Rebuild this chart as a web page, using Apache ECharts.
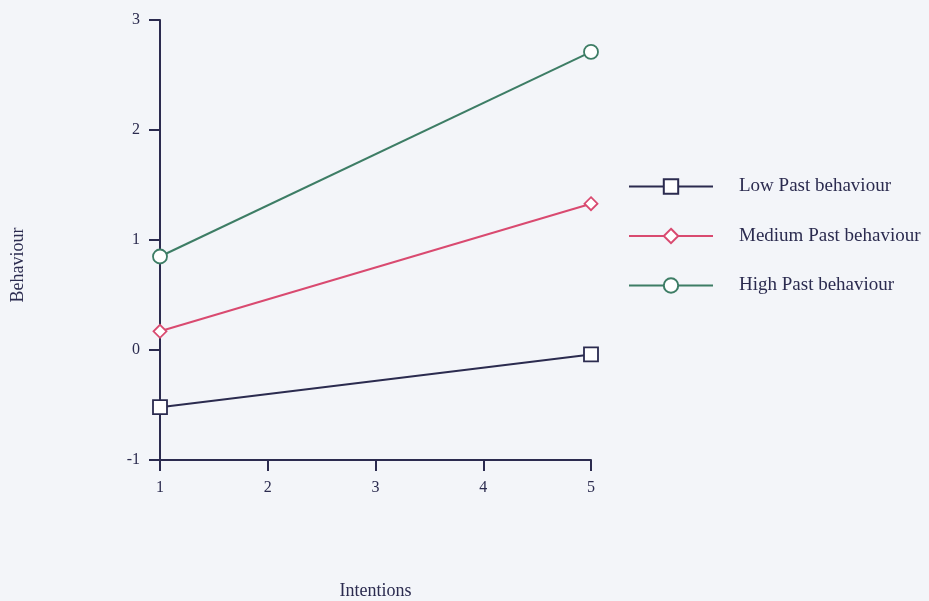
<!DOCTYPE html>
<html><head><meta charset="utf-8">
<script src="https://cdn.jsdelivr.net/npm/echarts@6/dist/echarts.min.js"></script>
<style>html,body{margin:0;padding:0;background:#f3f5f9;}#c{width:929px;height:601px;}</style>
</head><body><div id="c"></div>
<script>
const intentions = [1, 5];
const xTicks = [1, 2, 3, 4, 5];
const yTicks = [-1, 0, 1, 2, 3];
const seriesNames = ['Low Past behaviour', 'Medium Past behaviour', 'High Past behaviour'];
const lowPast = [-0.52, -0.04];
const mediumPast = [0.17, 1.33];
const highPast = [0.85, 2.71];

const font = 'Liberation Serif';
const axisColor = '#2b2b4f';
const colors = ['#2b2b4f', '#d94a70', '#3d7d65'];
const symbols = ['rect', 'diamond', 'circle'];
const sizes = [14, 13, 14];
const values = [lowPast, mediumPast, highPast];

const chart = echarts.init(document.getElementById('c'));
chart.setOption({
  backgroundColor: '#f3f5f9',
  animation: false,
  grid: {left: 160, right: 338, top: 20, bottom: 141, outerBoundsMode: 'none', containLabel: false},
  xAxis: {
    type: 'value', min: xTicks[0], max: xTicks[xTicks.length - 1], interval: 1,
    name: 'Intentions', nameLocation: 'middle', nameGap: 122,
    nameTextStyle: {fontFamily: font, fontSize: 18, color: '#2b2b4f'},
    axisLine: {show: true, onZero: false, lineStyle: {color: axisColor, width: 2}},
    axisTick: {show: true, length: 11, inside: false, lineStyle: {color: axisColor, width: 2}},
    axisLabel: {fontFamily: font, fontSize: 16, color: '#2b2b4f', margin: 20},
    splitLine: {show: false}
  },
  yAxis: {
    type: 'value', min: yTicks[0], max: yTicks[yTicks.length - 1], interval: 1,
    axisLine: {show: true, onZero: false, lineStyle: {color: axisColor, width: 2}},
    axisTick: {show: true, length: 11, inside: false, lineStyle: {color: axisColor, width: 2}},
    axisLabel: {fontFamily: font, fontSize: 16, color: '#2b2b4f', margin: 20},
    splitLine: {show: false}
  },
  legend: {
    orient: 'vertical', left: 623, top: 172,
    itemWidth: 84, itemHeight: 18, itemGap: 30.5,
    textStyle: {fontFamily: font, fontSize: 19, color: '#2b2b4f', padding: [0, 0, 0, 21]},
    data: seriesNames
  },
  graphic: [{
    type: 'text', rotation: Math.PI / 2, x: 18, y: 265,
    style: {text: 'Behaviour', font: '18px "Liberation Serif"', fill: '#2b2b4f', textAlign: 'center', textVerticalAlign: 'middle'}
  }],
  series: seriesNames.map((n, i) => ({
    name: n, type: 'line',
    data: intentions.map((x, j) => [x, values[i][j]]),
    symbol: symbols[i], symbolSize: sizes[i],
    lineStyle: {color: colors[i], width: 2},
    itemStyle: {color: '#ffffff', borderColor: colors[i], borderWidth: 1.8},
    color: colors[i]
  }))
});
</script></body></html>
